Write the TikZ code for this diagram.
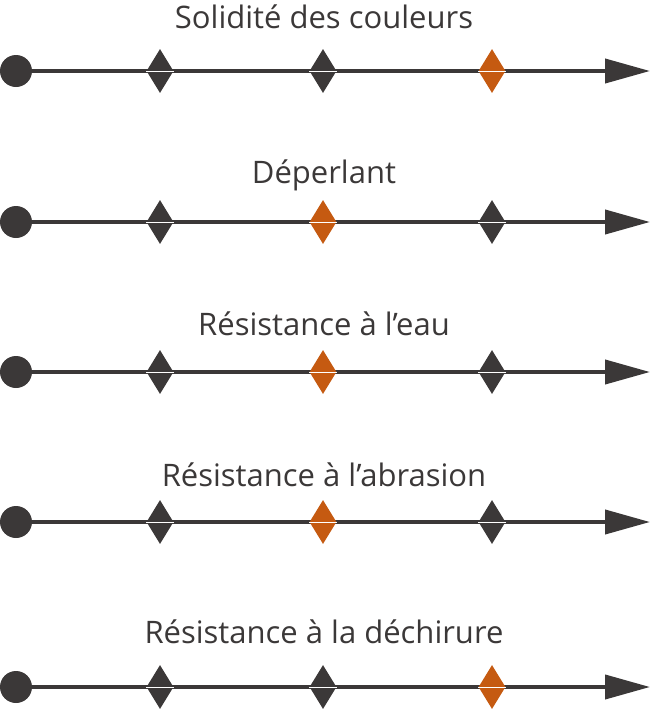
\documentclass[tikz,border=0pt]{standalone}
\usepackage{fontspec}
\setmainfont{Open Sans}
\usetikzlibrary{shapes.geometric,arrows.meta,backgrounds}
\definecolor{dk}{RGB}{59,56,56}
\definecolor{og}{RGB}{197,90,17}
\begin{document}
\begin{tikzpicture}[x=1pt,y=-1pt,
  startdot/.style={circle,fill=dk,minimum size=32pt,inner sep=0pt},
  dmd/.style={diamond,fill=dk,minimum width=27pt,minimum height=44pt,inner sep=0pt,shape aspect=0.6},
  axisline/.style={draw=dk,line width=4pt,-{Triangle[length=45pt,width=24pt]}},
  cutline/.style={draw=white,line width=1pt},
  ttl/.style={anchor=base,text=dk,font=\fontsize{31}{36}\selectfont,inner sep=0pt}]
\useasboundingbox (0,0) rectangle (650,710);
% rows
\foreach \r/\y/\ty/\t/\ca/\cb/\cc in {
  1/71/28/{Solidité des couleurs}/dk/dk/og,
  2/222/183/{Déperlant}/dk/og/dk,
  3/372/335/{Résistance à l’eau}/dk/og/dk,
  4/522/486/{Résistance à l’abrasion}/dk/og/dk,
  5/687/643/{Résistance à la déchirure}/dk/dk/og}{
  \node[ttl] (t\r) at (324,\ty) {\t};
  \node[startdot] (s\r) at (16,\y) {};
  \node[dmd,fill=\ca] (a\r) at (160,\y) {};
  \node[dmd,fill=\cb] (b\r) at (323,\y) {};
  \node[dmd,fill=\cc] (c\r) at (492,\y) {};
  \coordinate (e\r) at (650,\y);
  \draw[cutline] (a\r.west) -- (a\r.east);
  \draw[cutline] (b\r.west) -- (b\r.east);
  \draw[cutline] (c\r.west) -- (c\r.east);
  \begin{pgfonlayer}{background}
    \draw[axisline] (s\r.center) -- (e\r);
  \end{pgfonlayer}
}
\end{tikzpicture}
\end{document}
